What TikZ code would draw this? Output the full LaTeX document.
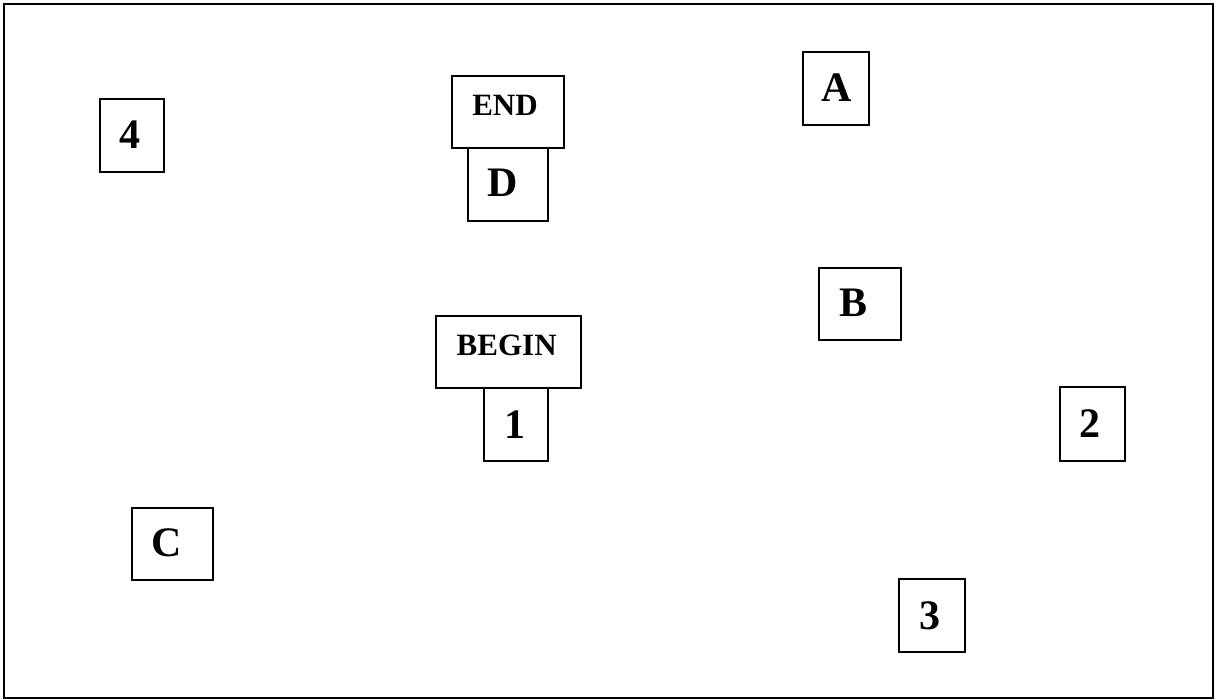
\documentclass[tikz,border=0pt]{standalone}
\usepackage{fontspec}
\setmainfont{Liberation Serif}
\begin{document}
\begin{tikzpicture}[x=1pt,y=-1pt,
  box/.style={draw,line width=1.5pt,inner sep=0pt},
  big/.style={font=\fontsize{42}{42}\selectfont\bfseries,inner sep=0pt},
  small/.style={font=\fontsize{31}{31}\selectfont\bfseries,inner sep=0pt}]
\useasboundingbox (0,0) rectangle (1217,700);
\draw[line width=1.5pt] (4,4) rectangle (1213,698);
% boxes
\node[box,minimum width=64pt,minimum height=73pt] (n4) at (132,135.5) {};
\node[box,minimum width=80pt,minimum height=73pt] (d) at (508,184.5) {};
\node[box,fill=white,minimum width=112pt,minimum height=72pt] (endb) at (508,112) {};
\node[box,minimum width=64pt,minimum height=73pt] (n1) at (516,424.5) {};
\node[box,fill=white,minimum width=145pt,minimum height=72pt] (beginb) at (508.5,352) {};
\node[box,minimum width=66pt,minimum height=73pt] (a) at (836,88.5) {};
\node[box,minimum width=82pt,minimum height=72pt] (b) at (860,304) {};
\node[box,minimum width=65pt,minimum height=74pt] (n2) at (1092.5,424) {};
\node[box,minimum width=81pt,minimum height=72pt] (c) at (172.5,544) {};
\node[box,minimum width=66pt,minimum height=73pt] (n3) at (932,615.5) {};
% labels
\node[big] (t4) at (129.7,135) {4};
\node[big] (td) at (502.5,183) {D};
\node[small] (tend) at (505,105.5) {END};
\node[small] (tbegin) at (506.7,345.8) {BEGIN};
\node[big] (t1) at (515,425) {1};
\node[big] (ta) at (836.7,88) {A};
\node[big] (tb) at (853.8,303) {B};
\node[big] (t2) at (1089.5,424) {2};
\node[big] (tc) at (167,543) {C};
\node[big] (t3) at (930,616) {3};
\end{tikzpicture}
\end{document}
